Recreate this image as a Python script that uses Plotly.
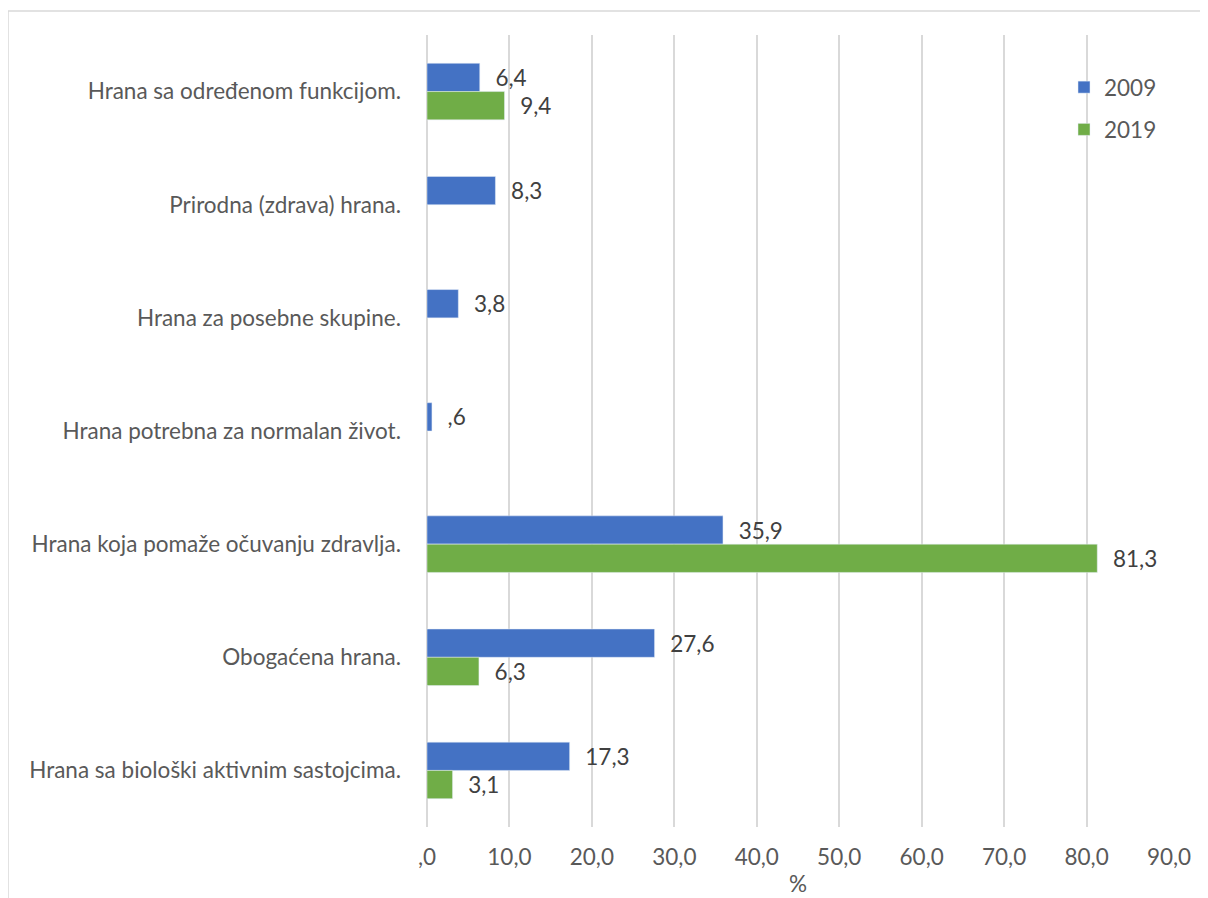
import plotly.graph_objects as go

categories = [
    "Hrana sa određenom funkcijom.",
    "Prirodna (zdrava) hrana.",
    "Hrana za posebne skupine.",
    "Hrana potrebna za normalan život.",
    "Hrana koja pomaže očuvanju zdravlja.",
    "Obogaćena hrana.",
    "Hrana sa biološki aktivnim sastojcima.",
]
values_2009 = [6.4, 8.3, 3.8, 0.6, 35.9, 27.6, 17.3]
values_2019 = [9.4, None, None, None, 81.3, 6.3, 3.1]
tick_vals = [0, 10, 20, 30, 40, 50, 60, 70, 80, 90]


def fmt(v):
    if v is None:
        return ""
    s = f"{v:.1f}".replace(".", ",")
    if s.startswith("0,"):
        s = s[1:]
    return s


tick_text = [fmt(v) for v in tick_vals]

FONT = "Lato, 'Open Sans', sans-serif"
FS = 22.5
TXT = "#404040"
GRAY = "#595959"
PAD = "\u2002\u200a"

fig = go.Figure()
fig.add_trace(go.Bar(
    y=categories, x=values_2009, name="2009", orientation="h",
    marker_color="#4472c4", legendgroup="a",
    text=[PAD + fmt(v) for v in values_2009], textposition="outside",
    textfont=dict(size=FS, color=TXT, family=FONT), cliponaxis=False,
))
fig.add_trace(go.Bar(
    y=categories, x=values_2019, name="2019", orientation="h",
    marker_color="#70ad47", legendgroup="b",
    text=[(PAD + fmt(v)) if v is not None else "" for v in values_2019], textposition="outside",
    textfont=dict(size=FS, color=TXT, family=FONT), cliponaxis=False,
))

# page body has an 8px offset, so figure coordinates are window coords minus 8
OFF = 8
W, H = 1208, 898
L, T = 427 - OFF, 35 - OFF
pw, ph = 1169 - 427, 827 - 35
R, B = W - L - pw, H - T - ph

fig.update_layout(
    width=W, height=H,
    margin=dict(l=L, r=R, t=T, b=B, autoexpand=False),
    barmode="group", bargap=0.5, bargroupgap=0,
    plot_bgcolor="white", paper_bgcolor="white",
    font=dict(family=FONT, size=FS, color=GRAY),
    legend=dict(x=(1064 - 427) / pw, y=(ph - (66 - 35)) / ph, xanchor="left", yanchor="top",
                font=dict(size=FS, color=GRAY), bgcolor="rgba(0,0,0,0)",
                traceorder="grouped", tracegroupgap=10, itemwidth=30),
    showlegend=True,
    xaxis=dict(range=[0, 90], tickvals=tick_vals, ticktext=tick_text, automargin=False,
               showgrid=True, gridcolor="#d9d9d9", gridwidth=1.5, zeroline=True,
               zerolinecolor="#d9d9d9", zerolinewidth=1.5,
               ticks="", ticklabelstandoff=14,
               title=dict(text="%", standoff=7, font=dict(size=FS, color=GRAY)),
               tickfont=dict(size=FS, color=GRAY)),
    yaxis=dict(autorange="reversed", showgrid=False, ticks="", automargin=False,
               tickfont=dict(size=FS, color=GRAY), ticklabelstandoff=25),
    shapes=[dict(type="rect", xref="paper", yref="paper",
                 x0=(8 - 427) / pw, x1=1.2, y0=-0.3, y1=(ph - (11 - 35)) / ph,
                 line=dict(color="#d9d9d9", width=1.5), fillcolor="rgba(0,0,0,0)",
                 layer="below")],
)

fig.write_html("out.html")
